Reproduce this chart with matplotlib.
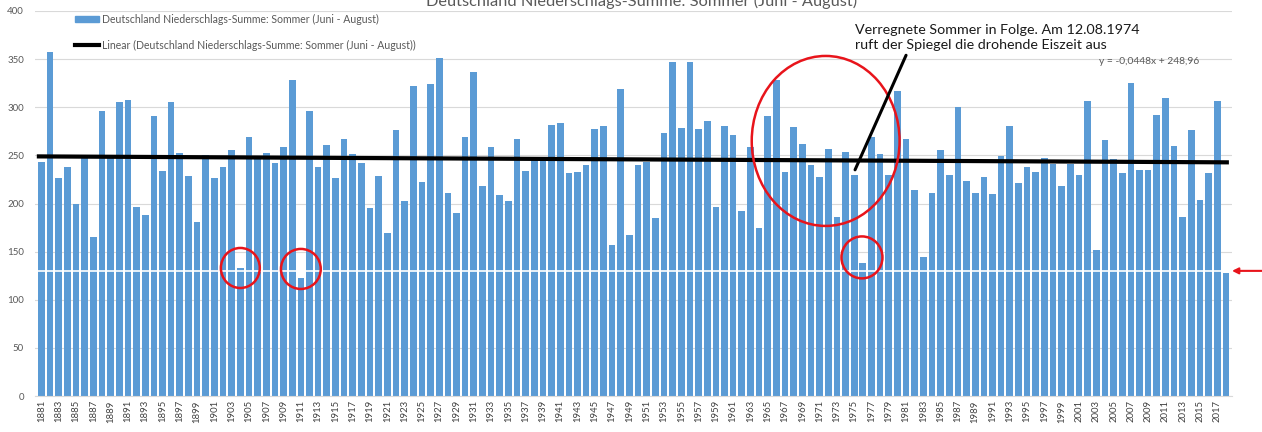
import matplotlib.pyplot as plt
from matplotlib.patches import Ellipse, Patch
from matplotlib.lines import Line2D
import numpy as np

plt.rcParams["font.family"] = ["Lato", "DejaVu Sans"]

years = list(range(1881, 2019))
rain = [
    243, 357, 227, 238, 199, 247, 165, 296, 249, 305,
    308, 196, 188, 291, 234, 305, 252, 229, 181, 250,
    226, 238, 256, 133, 269, 248, 252, 242, 259, 328,
    123, 296, 238, 261, 226, 267, 251, 242, 195, 229,
    169, 276, 203, 322, 222, 324, 351, 211, 190, 269,
    337, 218, 259, 209, 203, 267, 234, 245, 245, 282,
    284, 232, 233, 240, 277, 281, 157, 319, 167, 240,
    243, 185, 273, 347, 278, 347, 277, 286, 196, 281,
    271, 192, 259, 175, 291, 328, 233, 279, 262, 240,
    228, 257, 186, 254, 230, 138, 269, 251, 230, 317,
    267, 214, 144, 211, 256, 230, 300, 223, 211, 228,
    210, 249, 281, 221, 238, 233, 247, 241, 218, 241,
    230, 307, 152, 266, 246, 232, 325, 235, 235, 292,
    310, 260, 186, 276, 204, 232, 307, 128,
]
trend_slope = -0.0448
trend_icept = 248.96
mark_level = 130

title = "Deutschland Niederschlags-Summe: Sommer (Juni - August)"
series_label = "Deutschland Niederschlags-Summe: Sommer (Juni - August)"
trend_label = "Linear (Deutschland Niederschlags-Summe: Sommer (Juni - August))"
note = "Verregnete Sommer in Folge. Am 12.08.1974\nruft der Spiegel die drohende Eiszeit aus"
eq_text = "y = -0,0448x + 248,96"

blue = "#5B9BD5"
grey = "#595959"

fig = plt.figure(figsize=(12.62, 4.32), dpi=100)
ax = fig.add_axes([35 / 1262, 36 / 432, 1197 / 1262, 385 / 432])

idx = np.arange(len(years))
ax.bar(idx, rain, width=0.77, color=blue, zorder=2)

# Excel trend line (x counted from 1)
xt = np.array([idx[0] - 0.3, idx[-1] + 0.1])
ax.plot(xt, trend_slope * (xt + 1) + trend_icept, color="black", lw=3, zorder=4)

ax.axhline(mark_level, color="white", lw=1.2, zorder=3)

ax.set_xlim(-0.75, 137.7)
ax.set_ylim(0, 400)
ax.set_yticks(range(0, 401, 50))
ax.set_xticks(idx[::2])
ax.set_xticklabels([str(y) for y in years[::2]], rotation=90, fontsize=6.8,
                   color="#404040")
ax.tick_params(axis="y", length=0, labelsize=7, labelcolor=grey, pad=8)
ax.tick_params(axis="x", length=0, pad=3)
ax.grid(axis="y", color="#d9d9d9", lw=0.8, zorder=0)
for s in ["top", "left", "right"]:
    ax.spines[s].set_visible(False)
ax.spines["bottom"].set_color("#d9d9d9")

# red marks
red = "#e8141b"
for cx, cy, w, h in [(23, 133, 4.5, 41.6), (30, 132, 4.6, 41.6),
                     (94.9, 144, 4.74, 43.6), (90.7, 265, 17.1, 176.6)]:
    ax.add_patch(Ellipse((cx, cy), w, h, fill=False, ec=red, lw=1.8, zorder=5))

ax.annotate("", xy=(94.1, 235), xytext=(100.0, 354),
            arrowprops=dict(arrowstyle="-", color="black", lw=2.2, shrinkA=0, shrinkB=0),
            zorder=6, annotation_clip=False)
ax.text(94.05, 387, note, ha="left", va="top", fontsize=10.3, linespacing=1.32,
        color="#1a1a1a", zorder=6)
ax.text(122.3, 348, eq_text, ha="left", va="center", fontsize=7.4, color=grey)

ax.annotate("", xy=(1.0, mark_level), xytext=(1.026, mark_level),
            xycoords=("axes fraction", "data"), textcoords=("axes fraction", "data"),
            arrowprops=dict(arrowstyle="-|>", color=red, lw=1.5, mutation_scale=9,
                            shrinkA=0, shrinkB=0),
            annotation_clip=False)

handles = [Patch(color=blue), Line2D([], [], color="black", lw=3)]
fig.legend(handles, [series_label, trend_label], loc="upper left",
           bbox_to_anchor=(75 / 1262, 1 - 14 / 432), frameon=False, fontsize=7.6,
           labelcolor=grey, handlelength=2.3, handleheight=0.5, handletextpad=0.3,
           labelspacing=1.4, borderpad=0, borderaxespad=0)

fig.text(642 / 1262, 1 - 6 / 432, title, ha="center", va="baseline",
         fontsize=11.8, color=grey)

fig.savefig("out.png", dpi=100)
